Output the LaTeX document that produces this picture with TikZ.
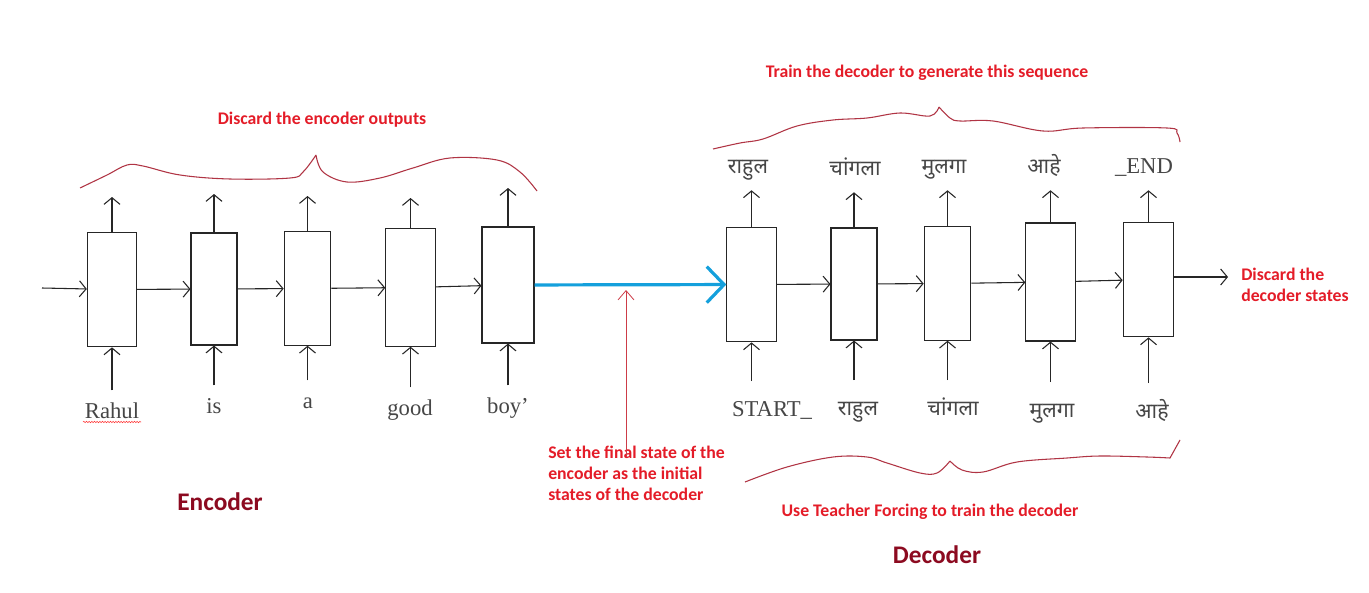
\documentclass[tikz,border=0pt]{standalone}
\usepackage{fontspec}
\usetikzlibrary{arrows.meta,decorations.pathmorphing}
\newfontfamily\wordfont{Liberation Serif}
\newfontfamily\devafont[Script=Devanagari]{Noto Sans}
\newfontfamily\notefont{Carlito}
\definecolor{notered}{RGB}{228,28,40}
\definecolor{bracered}{RGB}{176,52,68}
\definecolor{titlered}{RGB}{140,10,32}
\definecolor{pointred}{RGB}{205,60,72}
\definecolor{stateblue}{RGB}{20,160,220}
\definecolor{inkgrey}{RGB}{70,70,70}
\begin{document}
\begin{tikzpicture}[x=0.75pt, y=-0.75pt,
  cell/.style={draw=black!85, line width=0.8pt, minimum width=37pt, minimum height=86pt, inner sep=0pt},
  flow/.style={draw=black!85, line width=0.8pt, -{Straight Barb[length=5pt,width=12pt]}},
  state/.style={draw=stateblue, line width=2.4pt, -{Straight Barb[length=13pt,width=27pt]}},
  pointer/.style={draw=pointred, line width=0.6pt, -{Straight Barb[length=7pt,width=12pt]}},
  brace/.style={draw=bracered, line width=0.8pt},
  squiggle/.style={draw=red!80, line width=0.4pt, decorate, decoration={snake, amplitude=0.5pt, segment length=2pt}},
  word/.style={font=\wordfont\fontsize{17}{20}\selectfont, text=inkgrey, anchor=base, inner sep=0pt, text height=20.5pt},
  token/.style={word, font=\devafont\fontsize{16}{19}\selectfont, text height=26pt},
  outtok/.style={token, text depth=12.75pt},
  remark/.style={font=\notefont\bfseries\fontsize{13.3}{15.5}\selectfont, text=notered, inner sep=0pt},
  title/.style={font=\notefont\bfseries\fontsize{19}{22}\selectfont, text=titlered, inner sep=0pt}]
  \path[use as bounding box, fill=white] (0,0) rectangle (1369,592);

  % encoder
  \node[cell] (e1) at (112,289.5) {};
  \node[cell, minimum width=34.5pt, minimum height=84pt] (e2) at (214,289) {};
  \node[cell, minimum width=35pt, minimum height=85pt] (e3) at (307.5,288.5) {};
  \node[cell, minimum height=88pt] (e4) at (410.5,287.5) {};
  \node[cell, minimum width=39pt, minimum height=87pt] (e5) at (508,285) {};
  \node[word] (w1) at (112,418) {Rahul};
  \node[word] (w2) at (214,413) {is};
  \node[word] (w3) at (308,408) {a};
  \node[word] (w4) at (410,415) {good};
  \node[word] (w5) at (508,413) {boy’};
  \draw[squiggle] (83,422) -- (141,422);
  \coordinate (start) at (42,288);
  \coordinate (o1) at (112,197);
  \coordinate (o2) at (214,194);
  \coordinate (o3) at (307.5,196);
  \coordinate (o4) at (410.5,198);
  \coordinate (o5) at (508,188);
  \draw[flow] (start) -- (e1);
  \draw[flow] (e1) -- (e2);
  \draw[flow] (e2) -- (e3);
  \draw[flow] (e3) -- (e4);
  \draw[flow] (e4) -- (e5);
  \draw[flow] (e1.north) -- (o1);
  \draw[flow] (e2.north) -- (o2);
  \draw[flow] (e3.north) -- (o3);
  \draw[flow] (e4.north) -- (o4);
  \draw[flow] (e5.north) -- (o5);
  \draw[flow] (e1 |- w1.north) -- (e1.south);
  \draw[flow] (e2 |- w2.north) -- (e2.south);
  \draw[flow] (e3 |- w3.north) -- (e3.south);
  \draw[flow] (e4 |- w4.north) -- (e4.south);
  \draw[flow] (e5 |- w5.north) -- (e5.south);

  % decoder
  \node[cell] (d1) at (751.5,284.5) {};
  \node[cell, minimum width=34.5pt, minimum height=84pt] (d2) at (854,284) {};
  \node[cell, minimum width=35pt, minimum height=85pt] (d3) at (947.5,283.5) {};
  \node[cell, minimum height=88.5pt] (d4) at (1050.5,282) {};
  \node[cell, minimum width=38pt] (d5) at (1148.5,279.5) {};
  \node[token, font=\wordfont\fontsize{17}{20}\selectfont] (b1) at (772,416) {START\_};
  \node[token] (b2) at (858,415) {राहुल};
  \node[token] (b3) at (953,415) {चांगला};
  \node[token] (b4) at (1052,417) {मुलगा};
  \node[token] (b5) at (1152,418) {आहे};
  \node[outtok] (t1) at (748,173) {राहुल};
  \node[outtok] (t2) at (855,175) {चांगला};
  \node[outtok] (t3) at (944,173) {मुलगा};
  \node[outtok] (t4) at (1044,173) {आहे};
  \node[outtok, font=\wordfont\fontsize{17}{20}\selectfont] (t5) at (1144,173) {\_END};
  \coordinate (dout) at (1228,277);
  \draw[flow] (d1) -- (d2);
  \draw[flow] (d2) -- (d3);
  \draw[flow] (d3) -- (d4);
  \draw[flow] (d4) -- (d5);
  \draw[flow] (d5.east |- dout) -- (dout);
  \draw[flow] (d1.north) -- (d1.north |- t1.south);
  \draw[flow] (d2.north) -- (d2.north |- t2.south);
  \draw[flow] (d3.north) -- (d3.north |- t3.south);
  \draw[flow] (d4.north) -- (d4.north |- t4.south);
  \draw[flow] (d5.north) -- (d5.north |- t5.south);
  \draw[flow] (d1 |- b1.north) -- (d1.south);
  \draw[flow] (d2 |- b2.north) -- (d2.south);
  \draw[flow] (d3 |- b3.north) -- (d3.south);
  \draw[flow] (d4 |- b4.north) -- (d4.south);
  \draw[flow] (d5 |- b5.north) -- (d5.south);

  % final state handed over
  \draw[state] (e5) -- (d1);

  % braces
  \draw[brace] plot[smooth, tension=.6] coordinates {(80,188) (107,175) (127,165) (143,166) (180,175) (230,179) (290,178) (303,172) (316,155)}
    plot[smooth, tension=.6] coordinates {(316,155) (323,172) (347,182) (380,178) (413,168) (450,158) (497,160) (520,172) (537,191)};
  \draw[brace] plot[smooth, tension=.6] coordinates {(713,149) (740,143) (763,139) (797,126) (833,120) (867,118) (900,113) (930,116) (939,107)}
    plot[smooth, tension=.6] coordinates {(939,107) (950,118) (960,121) (993,121) (1043,131) (1083,128) (1167,128) (1177,133) (1180,142)};
  \draw[brace] plot[smooth, tension=.6] coordinates {(745,482) (787,467) (833,457) (867,457) (887,463) (920,473) (937,473) (950,461)}
    plot[smooth, tension=.6] coordinates {(950,461) (962,470) (983,472) (1017,462) (1067,458) (1100,456) (1147,457) (1170,458)}
    -- (1180,440);

  % remarks
  \node[remark] (keep) at (322,120) {Discard the encoder outputs};
  \node[remark] (train) at (927,73) {Train the decoder to generate this sequence};
  \node[remark] (force) at (930,512) {Use Teacher Forcing to train the decoder};
  \node[remark, align=left, anchor=north west] (note) at (548,446) {Set the final state of the\\encoder as the initial\\states of the decoder};
  \node[remark, align=left, anchor=north west] (drop) at (1241,268) {Discard the\\decoder states};
  \coordinate (hint) at (626,290);
  \draw[pointer, shorten <=-8pt] (note.north -| hint) -- (hint);
  \node[title] (enc) at (220,502) {Encoder};
  \node[title] (dec) at (937,555) {Decoder};
\end{tikzpicture}
\end{document}
